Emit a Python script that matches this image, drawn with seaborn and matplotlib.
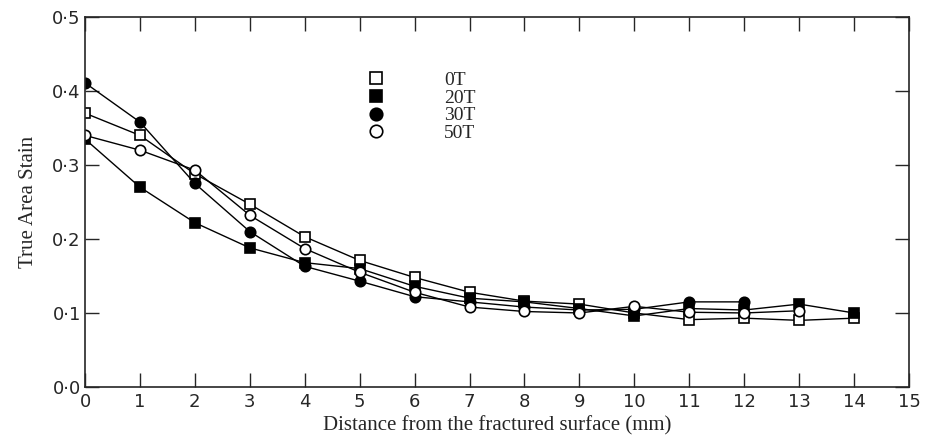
import numpy as np
import pandas as pd
import seaborn as sns
import matplotlib.pyplot as plt
from matplotlib.lines import Line2D
from matplotlib.ticker import FuncFormatter

distance = list(range(15))

# True area strain (NaN = no point)
strain_0T = [0.370, 0.340, 0.288, 0.247, 0.203, 0.171, 0.148, 0.128, 0.116, 0.112, 0.100, 0.091, 0.093, 0.090, 0.093]
strain_20T = [0.335, 0.270, 0.222, 0.188, 0.168, 0.160, 0.136, 0.120, 0.115, 0.106, 0.096, 0.106, 0.104, 0.112, 0.100]
strain_30T = [0.411, 0.358, 0.275, 0.210, 0.163, 0.143, 0.122, 0.115, 0.108, 0.104, 0.105, 0.115, 0.115, np.nan, np.nan]
strain_50T = [0.340, 0.320, 0.293, 0.232, 0.187, 0.155, 0.128, 0.108, 0.102, 0.100, 0.109, 0.101, 0.100, 0.103, np.nan]

series = ['0T', '20T', '30T', '50T']
values = [strain_0T, strain_20T, strain_30T, strain_50T]
markers = {'0T': 's', '20T': 's', '30T': 'o', '50T': 'o'}
faces = {'0T': 'white', '20T': 'black', '30T': 'black', '50T': 'white'}

df = pd.DataFrame({
    'Distance': distance * len(series),
    'Strain': sum(values, []),
    'Field': sum([[s] * len(distance) for s in series], []),
}).dropna()

sns.set_style('ticks')

fig = plt.figure(figsize=(9.29, 4.41), dpi=100)
ax = fig.add_axes([0.0915, 0.1225, 0.887, 0.839])

for s in series:
    sub = df[df['Field'] == s]
    sns.lineplot(x='Distance', y='Strain', data=sub, ax=ax, color='black', lw=1.0,
                 marker=markers[s], markersize=7.5, markerfacecolor=faces[s],
                 markeredgecolor='black', markeredgewidth=1.2, sort=True, estimator=None)

ax.set_xlim(0, 15)
ax.set_ylim(0, 0.5)
ax.set_xticks(range(16))
ax.set_yticks([0, 0.1, 0.2, 0.3, 0.4, 0.5])
ax.yaxis.set_major_formatter(FuncFormatter(lambda v, p: f'{v:.1f}'.replace('.', '·')))
ax.tick_params(direction='in', length=10, width=1, top=True, right=True, labelsize=13, pad=3)
ax.tick_params(axis='x', pad=4)
for sp in ax.spines.values():
    sp.set_linewidth(1.2)
    sp.set_visible(True)

ax.set_xlabel('Distance from the fractured surface (mm)', family='Liberation Serif', fontsize=15, labelpad=4)
ax.set_ylabel('True Area Stain', family='Liberation Serif', fontsize=15, labelpad=10)

handles = [Line2D([], [], ls='none', marker=markers[s], markersize=9, markerfacecolor=faces[s],
                  markeredgecolor='black', markeredgewidth=1.2) for s in series]
ax.legend(handles, series, loc='upper left', bbox_to_anchor=(0.32, 0.90), frameon=False,
          handlelength=1, handletextpad=3.0, labelspacing=0.0,
          prop={'family': 'Liberation Serif', 'size': 14})

fig.savefig('out.png', dpi=100)
